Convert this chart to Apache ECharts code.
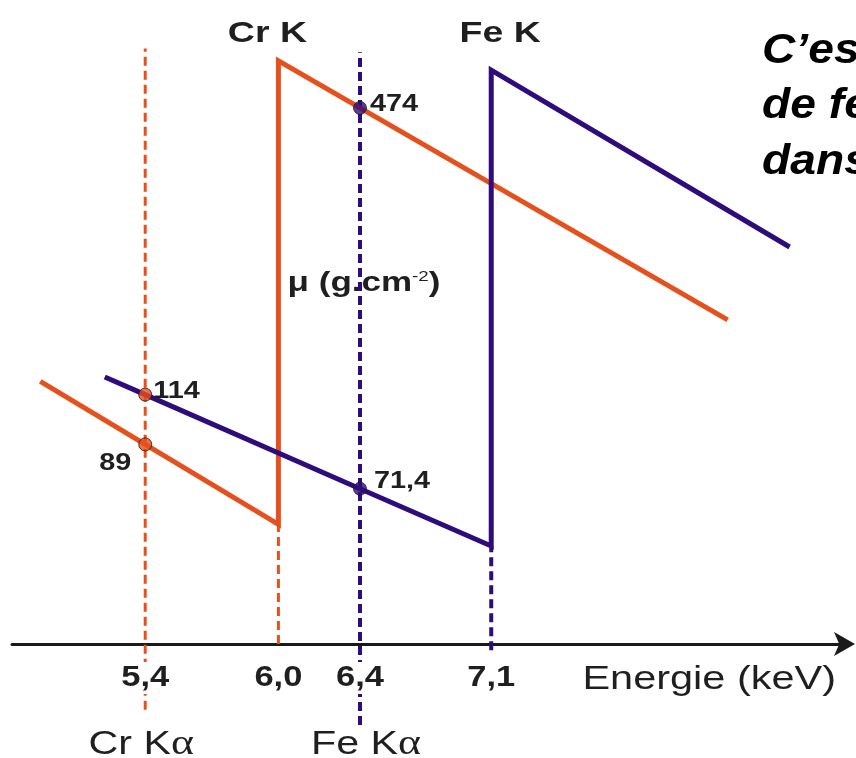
<!DOCTYPE html>
<html>
<head>
<meta charset="utf-8">
<script src="https://cdn.jsdelivr.net/npm/echarts@6/dist/echarts.min.js"></script>
<style>
  html, body { margin: 0; padding: 0; background: #ffffff; }
  #chart { width: 856px; height: 758px; }
</style>
</head>
<body>
<div id="chart"></div>
<script>
// Mass absorption coefficient of Cr and Fe around their K edges (log-log sketch)
const crCurveE  = [4.97, 5.4, 6.0, 6.0, 6.4, 8.56];
const crCurveMu = [121.8, 89, 59.8, 598.6, 474, 165.2];
const feCurveE  = [5.23, 5.4, 6.4, 7.1, 7.1, 8.99];
const feCurveMu = [124.4, 114, 71.4, 53.7, 572, 237.4];

// Energies marked on the axis
const tickEnergies = [5.4, 6.0, 6.4, 7.1];
const tickLabels   = ['5,4', '6,0', '6,4', '7,1'];

// Emission lines named under the axis
const lineNameEnergies = [5.4, 6.4];
const lineNames        = ['Cr K', 'Fe K'];

// Absorption edges named above the curves
const edgeEnergies = [6.0, 7.1];
const edgeNames    = ['Cr K', 'Fe K'];

// Vertical guides: Cr Kα, Cr edge, Fe Kα, Fe edge
const guideE      = [5.4, 6.0, 6.4, 7.1];
const guideMuLow  = [23.8, 33, 22.06, 32];
const guideMuHigh = [637, 59.8, 625, 53.7];
const guideOwner  = ['cr', 'cr', 'fe', 'fe'];

// mu values read at the emission lines
const markE     = [5.4, 5.4, 6.4, 6.4];
const markMu    = [114, 89, 474, 71.4];
const markOwner = ['cr', 'cr', 'fe', 'fe'];

// Side note, cut by the right border
const noteLines = ['C’est', 'de fer', 'dans'];

const AXIS_E  = [4.86, 9.4];
const AXIS_MU = [33, 730];

const COLORS = { cr: '#e6501c', fe: '#2e0c7c' };
const TEXT = '#1f1f1f';
const FONT = '"Liberation Sans", Arial, sans-serif';
const WIDE = 1.25;   // horizontal stretch of the lettering

const fmt = v => String(v).replace('.', ',');
const pairs = (xs, ys) => xs.map((x, i) => [x, ys[i]]);

const guideSeries = guideE.map((e, i) => ({
  type: 'line',
  z: 1,
  clip: false,
  silent: true,
  symbol: 'none',
  data: [[e, guideMuLow[i]], [e, guideMuHigh[i]]],
  lineStyle: {
    color: COLORS[guideOwner[i]],
    width: guideOwner[i] === 'fe' ? 4 : 3,
    type: [9, 5]
  }
}));

const curveSeries = (name, owner, xs, ys) => ({
  name: name,
  type: 'line',
  z: 3,
  silent: true,
  symbol: 'none',
  data: pairs(xs, ys),
  lineStyle: { color: COLORS[owner], width: 5, join: 'miter', cap: 'butt' }
});

const chart = echarts.init(document.getElementById('chart'), null, { renderer: 'canvas' });

chart.setOption({
  animation: false,
  backgroundColor: '#ffffff',
  grid: { left: 12, right: 10, top: 21, bottom: 114 },
  xAxis: {
    type: 'log',
    min: AXIS_E[0],
    max: AXIS_E[1],
    axisLine: {
      show: true,
      onZero: false,
      symbol: ['none', 'arrow'],
      symbolSize: [18, 21],
      symbolOffset: [0, 9],
      lineStyle: { color: '#1a1a1a', width: 3 }
    },
    axisTick: { show: false },
    axisLabel: { show: false },
    splitLine: { show: false }
  },
  yAxis: {
    type: 'log',
    min: AXIS_MU[0],
    max: AXIS_MU[1],
    show: false,
    splitLine: { show: false }
  },
  series: [
    ...guideSeries,
    curveSeries('Cr', 'cr', crCurveE, crCurveMu),
    curveSeries('Fe', 'fe', feCurveE, feCurveMu),
    {
      type: 'scatter',
      z: 5,
      silent: true,
      symbolSize: 13,
      data: markE.map((e, i) => ({
        value: [e, markMu[i]],
        itemStyle: { color: COLORS[markOwner[i]], borderColor: '#2a1410', borderWidth: 1 }
      }))
    }
  ]
});

// Lettering, placed through the axes' own scales
const px = (e, mu) => chart.convertToPixel({ gridIndex: 0 }, [e, mu]);

function text(x, y, str, font, align, sx) {
  return {
    type: 'text', x: x, y: y, z: 50, scaleX: sx || WIDE,
    style: {
      text: str, font: font, fill: TEXT,
      align: align, verticalAlign: 'middle',
      textAlign: align, textVerticalAlign: 'middle'
    }
  };
}

const graphics = [];

// values beside the marked points
const markPlace = [
  { dx: 8, dy: -3, align: 'left' },
  { dx: -14, dy: 19, align: 'right' },
  { dx: 10, dy: -4, align: 'left' },
  { dx: 14, dy: -7, align: 'left' }
];
markE.forEach((e, i) => {
  const p = px(e, markMu[i]);
  const m = markPlace[i];
  graphics.push(text(p[0] + m.dx, p[1] + m.dy, fmt(markMu[i]), 'bold 24px ' + FONT, m.align, 1.2));
});

// energies under the axis (white box hides the guides)
const axisY = px(AXIS_E[0], AXIS_MU[0])[1];
tickEnergies.forEach((e, i) => {
  const p = px(e, AXIS_MU[0]);
  const t = text(p[0], axisY + 34, tickLabels[i], 'bold 30px ' + FONT, 'center', 1.15);
  t.style.backgroundColor = '#ffffff';
  t.style.padding = [1, 1];
  graphics.push(t);
});

// emission line names
lineNameEnergies.forEach((e, i) => {
  const p = px(e, AXIS_MU[0]);
  graphics.push({
    type: 'text', x: p[0] + (i ? 6 : -4), y: axisY + 101, z: 50, scaleX: WIDE,
    style: {
      text: '{a|' + lineNames[i] + '}{g|α}',
      align: 'center', verticalAlign: 'middle', textAlign: 'center', textVerticalAlign: 'middle',
      backgroundColor: '#ffffff',
      rich: {
        a: { font: '33px ' + FONT, fill: TEXT },
        g: { font: '35px "Liberation Serif", serif', fill: TEXT }
      }
    }
  });
});

// edge names above the jumps
edgeEnergies.forEach((e, i) => {
  const p = px(e, AXIS_MU[0]);
  graphics.push(text(p[0] + (i ? 9 : -11), 34, edgeNames[i], 'bold 30px ' + FONT, 'center'));
});

// axis title
graphics.push(text(836, axisY + 36, 'Energie (keV)', '34px ' + FONT, 'right', 1.22));

// ordinate title, sitting under the Fe Kα guide
const muX = px(6.4, AXIS_MU[0])[0];
graphics.push({
  type: 'text', x: muX + 4, y: 283, z: 0, scaleX: WIDE,
  style: {
    text: '{a|μ (g.cm}{s|-2}{a|)}',
    align: 'center', verticalAlign: 'middle', textAlign: 'center', textVerticalAlign: 'middle',
    rich: {
      a: { font: 'bold 28px ' + FONT, fill: TEXT },
      s: { font: '15px ' + FONT, fill: TEXT, verticalAlign: 'bottom', padding: [0, 0, 13, 0] }
    }
  }
});

// side note
const noteY = [51, 106, 162];
noteLines.forEach((s, i) => {
  const t = text(762, noteY[i], s, 'italic bold 42px ' + FONT, 'left', 1.1);
  t.style.fill = '#000000';
  graphics.push(t);
});

chart.setOption({ graphic: graphics });
</script>
</body>
</html>
